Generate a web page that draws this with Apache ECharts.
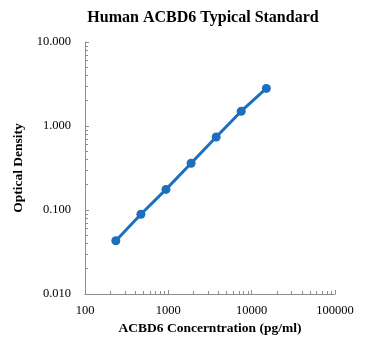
<!DOCTYPE html>
<html>
<head>
<meta charset="utf-8">
<script src="https://cdn.jsdelivr.net/npm/echarts@6/dist/echarts.min.js"></script>
<style>
  html, body { margin: 0; padding: 0; background: #fff; }
  #myChart { width: 370px; height: 351px; }
</style>
</head>
<body>
<div id="myChart"></div>
<script>
// standard curve points (pg/ml, OD)
var concentrations = [234.4, 468.8, 937.5, 1875, 3750, 7500, 15000];
var odValues = [0.043, 0.089, 0.176, 0.36, 0.74, 1.50, 2.80];
var xMinorTicks = [200, 300, 400, 500, 600, 700, 800, 900,
  2000, 3000, 4000, 5000, 6000, 7000, 8000, 9000,
  20000, 30000, 40000, 50000, 60000, 70000, 80000, 90000];
var yMinorTicks = [0.02, 0.03, 0.04, 0.05, 0.06, 0.07, 0.08, 0.09,
  0.2, 0.3, 0.4, 0.5, 0.6, 0.7, 0.8, 0.9,
  2, 3, 4, 5, 6, 7, 8, 9];

var serif = '"Liberation Serif", "Times New Roman", serif';
var axisGray = '#8c8c8c';

var myChart = echarts.init(document.getElementById('myChart'));
myChart.setOption({
  animation: false,
  title: {
    text: 'Human ACBD6 Typical Standard',
    left: 198,
    textAlign: 'center',
    top: 5,
    textStyle: { fontFamily: serif, fontSize: 16, fontWeight: 'bold', color: '#000' }
  },
  grid: { left: 85, right: 35, top: 42, bottom: 57 },
  xAxis: [{
    type: 'log',
    min: 100,
    max: 100000,
    logBase: 10,
    name: 'ACBD6 Concerntration (pg/ml)',
    nameLocation: 'middle',
    nameGap: 28,
    nameTextStyle: { fontFamily: serif, fontSize: 13.5, fontWeight: 'bold', color: '#000' },
    axisLine: { lineStyle: { color: axisGray } },
    axisTick: { inside: true, length: 4, lineStyle: { color: axisGray } },
    axisLabel: {
      fontFamily: serif, fontSize: 12.5, color: '#000', margin: 10,
      formatter: function (v) { return String(Math.round(v)); }
    },
    splitLine: { show: false }
  }, {
    type: 'log',
    min: 100,
    max: 100000,
    position: 'bottom',
    axisLine: { show: false },
    axisTick: { inside: true, length: 3, customValues: xMinorTicks, lineStyle: { color: axisGray } },
    axisLabel: { show: false },
    splitLine: { show: false }
  }],
  yAxis: [{
    type: 'log',
    min: 0.01,
    max: 10,
    logBase: 10,
    name: 'Optical Density',
    nameLocation: 'middle',
    nameGap: 57,
    nameTextStyle: { fontFamily: serif, fontSize: 13.5, fontWeight: 'bold', color: '#000' },
    axisLine: { show: true, lineStyle: { color: axisGray } },
    axisTick: { show: true, inside: true, length: 4, lineStyle: { color: axisGray } },
    axisLabel: {
      fontFamily: serif, fontSize: 12.5, color: '#000', margin: 14,
      formatter: function (v) { return Number(v).toFixed(3); }
    },
    splitLine: { show: false }
  }, {
    type: 'log',
    min: 0.01,
    max: 10,
    position: 'left',
    axisLine: { show: false },
    axisTick: { show: true, inside: true, length: 3, customValues: yMinorTicks, lineStyle: { color: axisGray } },
    axisLabel: { show: false },
    splitLine: { show: false }
  }],
  series: [{
    type: 'line',
    data: concentrations.map(function (c, i) { return [c, odValues[i]]; }),
    symbol: 'circle',
    symbolSize: 9,
    lineStyle: { color: '#1b6fbd', width: 3 },
    itemStyle: { color: '#1b6fbd' }
  }]
});
</script>
</body>
</html>
